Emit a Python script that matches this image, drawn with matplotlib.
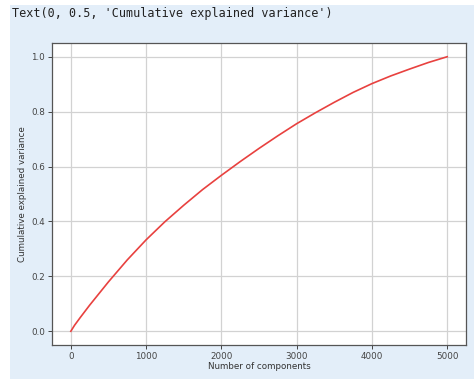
import matplotlib
matplotlib.use("Agg")
import matplotlib.pyplot as plt
from matplotlib.patches import Rectangle

# cumulative explained variance
n_components = [0, 50, 125, 250, 500, 750, 1000, 1250, 1500, 1750, 2000, 2250,
                2500, 2750, 3000, 3250, 3500, 3750, 4000, 4250, 4500, 4750, 5000]
cum_var = [0.0, 0.022, 0.05, 0.095, 0.18, 0.26, 0.333, 0.399, 0.459, 0.516, 0.568,
           0.618, 0.666, 0.712, 0.756, 0.796, 0.834, 0.870, 0.902, 0.930, 0.955,
           0.979, 1.0]

x_ticks = [0, 1000, 2000, 3000, 4000, 5000]
y_ticks = [0.0, 0.2, 0.4, 0.6, 0.8, 1.0]

BG = "#e3eef9"
W, H = 474, 379

fig = plt.figure(figsize=(W / 100, H / 100), dpi=100, facecolor="white")

# notebook output cell background
fig.patches.append(Rectangle((10 / W, 0), 1 - 10 / W, 1 - 5 / H,
                             transform=fig.transFigure, facecolor=BG,
                             edgecolor="none", zorder=-1))

fig.text(12 / W, 1 - 14 / H, "Text(0, 0.5, 'Cumulative explained variance')",
         family="DejaVu Sans Mono", fontsize=8.5, color="#222222",
         ha="left", va="center")

ax = fig.add_axes([52 / W, 1 - 345 / H, (466 - 52) / W, (345 - 43) / H])
ax.set_zorder(2)
ax.set_facecolor("white")
ax.plot(n_components, cum_var, color="#e8413f", lw=1.2)

ax.set_xticks(x_ticks)
ax.set_yticks(y_ticks)
ax.set_yticklabels([f"{v:.1f}" for v in y_ticks])
ax.set_xlim(-250, 5250)
ax.set_ylim(-0.05, 1.05)
ax.grid(True, color="#d2d2d2", lw=0.9)
ax.set_axisbelow(True)

for s in ax.spines.values():
    s.set_color("#555555")
    s.set_linewidth(0.9)
ax.tick_params(labelsize=6.3, colors="#444444", length=3, width=0.7, pad=2)

ax.set_xlabel("Number of components", fontsize=6.3, color="#333333", labelpad=1)
ax.set_ylabel("Cumulative explained variance", fontsize=6.3, color="#333333", labelpad=3)

fig.savefig("out.png", dpi=100, facecolor=fig.get_facecolor())
